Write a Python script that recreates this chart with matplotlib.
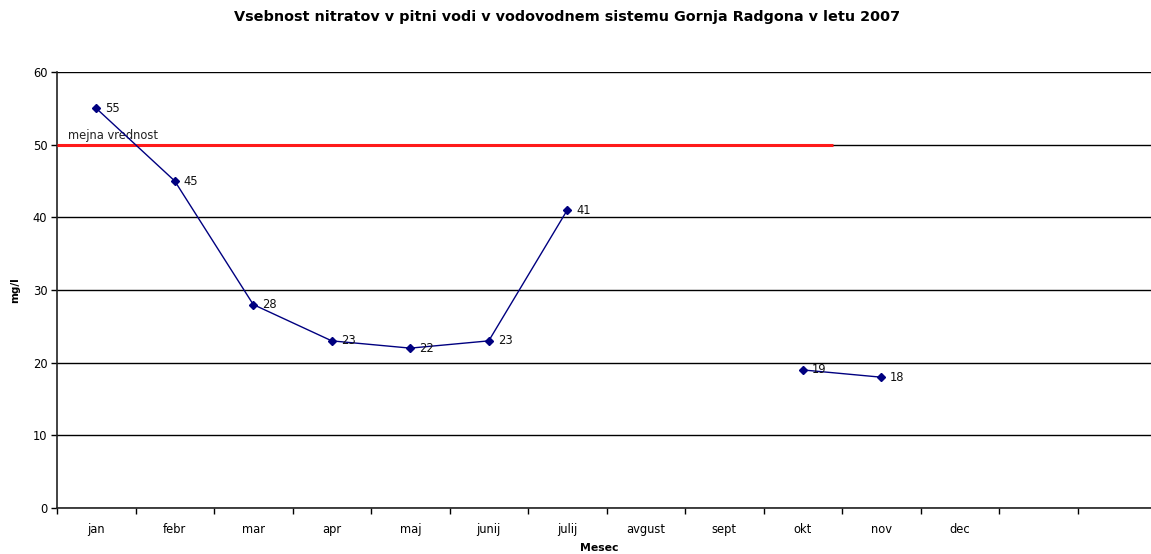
import numpy as np
import matplotlib
matplotlib.use("Agg")
import matplotlib.pyplot as plt

months = ["jan", "febr", "mar", "apr", "maj", "junij", "julij",
          "avgust", "sept", "okt", "nov", "dec", "", ""]
nitrate = [55, 45, 28, 23, 22, 23, 41, np.nan, np.nan, 19, 18, np.nan]
limit_value = 50
limit_label = "mejna vrednost"
title = "Vsebnost nitratov v pitni vodi v vodovodnem sistemu Gornja Radgona v letu 2007"

plt.rcParams["font.family"] = ["DejaVu Sans"]

W, H = 1151, 554
fig = plt.figure(figsize=(W / 100, H / 100), dpi=100)
left, right, top, bottom = 57, 1156, 72, 508
ax = fig.add_axes([left / W, 1 - bottom / H, (right - left) / W, (bottom - top) / H])

n = len(months)
x = np.arange(len(nitrate))
y = np.array(nitrate, dtype=float)

ax.set_xlim(-0.5, n - 0.5)
ax.set_ylim(0, 60)
ax.set_yticks(np.arange(0, 61, 10))
ax.yaxis.grid(True, color="black", linewidth=1.0)
ax.set_axisbelow(True)

# limit line drawn as a flat segment across the first months
ax.plot([-0.5, 9.385], [limit_value, limit_value], color="#ff1a1a", linewidth=2.2,
        solid_capstyle="butt", zorder=3)
ax.text(-0.36, limit_value + 0.4, limit_label, fontsize=8.3, color="#222222",
        va="bottom", ha="left", zorder=4)

ax.plot(x, y, color="#000080", linewidth=1.0, marker="D", markersize=4.2,
        markerfacecolor="#000080", markeredgecolor="#000080", zorder=5)
for xi, yi in zip(x, y):
    if not np.isnan(yi):
        ax.annotate(f"{int(yi)}", (xi, yi), xytext=(6.5, 0), textcoords="offset points",
                    fontsize=8.3, va="center", ha="left", color="#111111", zorder=6)

ax.set_xticks(np.arange(n + 1) - 0.5, minor=False)
ax.set_xticklabels([])
ax.set_xticks(np.arange(n), minor=True)
ax.set_xticklabels(months, minor=True, fontsize=8.3)
ax.tick_params(axis="x", which="major", length=4, width=1.0, direction="out", color="black")
ax.tick_params(axis="x", which="minor", length=0, pad=11)
ax.tick_params(axis="y", length=4, width=1.0, direction="out", labelsize=8.3, pad=3)

for side in ["top", "right"]:
    ax.spines[side].set_visible(False)
for side in ["left", "bottom"]:
    ax.spines[side].set_linewidth(1.2)
    ax.spines[side].set_color("#222222")

ax.set_ylabel("mg/l", fontsize=7.5, fontweight="bold", labelpad=9)
fig.text(599 / W, 1 - 548 / H, "Mesec", fontsize=7.8, fontweight="bold",
         ha="center", va="center")
fig.text(567 / W, 1 - 17 / H, title, fontsize=10.4, fontweight="bold",
         ha="center", va="center")

fig.savefig("out.png", dpi=100, facecolor="white")
